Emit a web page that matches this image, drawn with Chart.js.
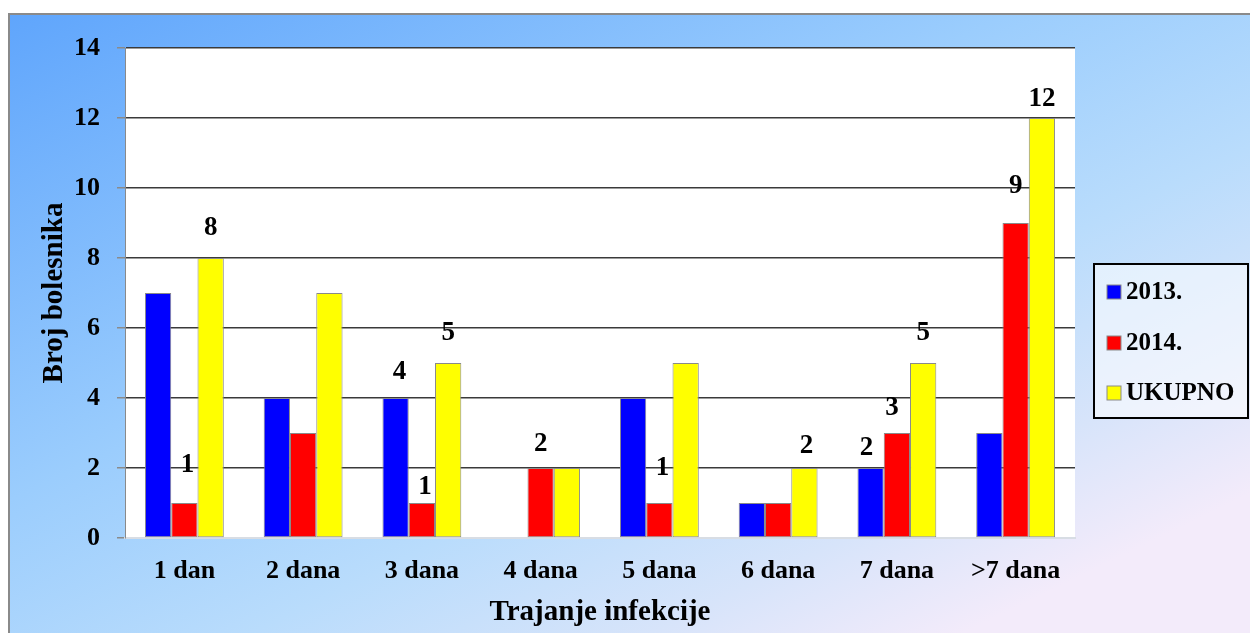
<!DOCTYPE html>
<html>
<head>
<meta charset="utf-8">
<script src="https://cdn.jsdelivr.net/npm/chart.js@4.4.1/dist/chart.umd.min.js"></script>
<style>
  html, body { margin: 0; padding: 0; background: #fff; }
  #wrap { position: relative; width: 1250px; height: 633px; }
  canvas { display: block; }
</style>
</head>
<body>
<div id="wrap"><canvas id="c" width="1250" height="633"></canvas></div>
<script>
// ---- data ----
const categories = ['1 dan', '2 dana', '3 dana', '4 dana', '5 dana', '6 dana', '7 dana', '>7 dana'];
const seriesNames = ['2013.', '2014.', 'UKUPNO'];
const values2013 = [7, 4, 4, 0, 4, 1, 2, 3];
const values2014 = [1, 3, 1, 2, 1, 1, 3, 9];
const valuesTotal = [8, 7, 5, 2, 5, 2, 5, 12];
const shown2013 = [false, false, true, false, false, false, true, false];
const shown2014 = [true, false, true, true, true, false, true, true];
const shownTotal = [true, false, true, false, false, true, true, true];
const yTicks = [0, 2, 4, 6, 8, 10, 12, 14];

// ---- styling (kept separate from data) ----
const colors = ['#0000ff', '#ff0000', '#ffff00'];
const FONT = "'Liberation Serif', 'Times New Roman', serif";
const labelNudge = [
  { 2: [4, -26], 6: [-4, -20] },
  { 0: [3, -38], 2: [3, -16], 3: [0, -24], 4: [3, -35], 6: [-5, -25], 7: [0, -37] },
  { 0: [0, -30], 2: [0, -30], 5: [2, -22], 6: [0, -30], 7: [0, -19] }
];
const shownFlags = [shown2013, shown2014, shownTotal];

const bgPlugin = {
  id: 'bg',
  beforeDraw(chart) {
    const ctx = chart.ctx;
    const W = chart.width, H = chart.height;
    ctx.save();
    ctx.fillStyle = '#ffffff';
    ctx.fillRect(0, 0, W, H);
    const g = ctx.createLinearGradient(8, 13, 8 + 570 * 0.75, 13 + 1170 * 0.75);
    g.addColorStop(0, 'rgb(95,165,252)');
    g.addColorStop(0.45, 'rgb(155,205,253)');
    g.addColorStop(0.68, 'rgb(185,220,252)');
    g.addColorStop(0.86, 'rgb(215,228,250)');
    g.addColorStop(1, 'rgb(243,235,250)');
    ctx.fillStyle = g;
    ctx.fillRect(8, 13, W - 8, H - 13);
    ctx.strokeStyle = '#8a8a8a';
    ctx.lineWidth = 2;
    ctx.beginPath();
    ctx.moveTo(9, H);
    ctx.lineTo(9, 14);
    ctx.lineTo(W, 14);
    ctx.stroke();
    const a = chart.chartArea;
    ctx.fillStyle = '#ffffff';
    ctx.fillRect(a.left, a.top, a.right - a.left, a.bottom - a.top);
    ctx.restore();
  }
};

const labelPlugin = {
  id: 'vlabels',
  afterDatasetsDraw(chart) {
    const ctx = chart.ctx;
    ctx.save();
    ctx.font = 'bold 27px ' + FONT;
    ctx.fillStyle = '#000';
    ctx.textAlign = 'center';
    ctx.textBaseline = 'middle';
    chart.data.datasets.forEach((ds, di) => {
      const meta = chart.getDatasetMeta(di);
      meta.data.forEach((bar, i) => {
        if (!shownFlags[di][i]) return;
        const n = labelNudge[di][i] || [0, -28];
        ctx.fillText(String(ds.data[i]), bar.x + n[0], bar.y + n[1]);
      });
    });
    ctx.restore();
  }
};

const legendPlugin = {
  id: 'boxLegend',
  afterDraw(chart) {
    const ctx = chart.ctx;
    const x0 = 1094, y0 = 264, w = 154, h = 154;
    ctx.save();
    ctx.fillStyle = 'rgba(255,255,255,0.55)';
    ctx.fillRect(x0, y0, w, h);
    ctx.strokeStyle = '#000';
    ctx.lineWidth = 2;
    ctx.strokeRect(x0, y0, w, h);
    const rows = [292, 343, 393];
    ctx.font = 'bold 25px ' + FONT;
    ctx.textBaseline = 'middle';
    ctx.textAlign = 'left';
    seriesNames.forEach((name, i) => {
      ctx.fillStyle = colors[i];
      ctx.fillRect(1107, rows[i] - 7, 14, 14);
      ctx.strokeStyle = '#8a8a8a';
      ctx.lineWidth = 1;
      ctx.strokeRect(1107, rows[i] - 7, 14, 14);
      ctx.fillStyle = '#000';
      ctx.fillText(name, 1126, rows[i] + 1);
    });
    ctx.restore();
  }
};

const datasets = [values2013, values2014, valuesTotal].map((vals, i) => ({
  label: seriesNames[i],
  data: vals,
  backgroundColor: colors[i],
  borderColor: '#8a8a8a',
  borderWidth: 1,
  borderSkipped: false,
  barPercentage: 1.0,
  categoryPercentage: 0.664
}));

new Chart(document.getElementById('c'), {
  type: 'bar',
  data: { labels: categories, datasets },
  options: {
    responsive: false,
    animation: false,
    devicePixelRatio: 1,
    layout: { padding: { top: 48, right: 175, left: 0, bottom: 0 } },
    plugins: { legend: { display: false }, tooltip: { enabled: false } },
    scales: {
      x: {
        grid: { display: false },
        border: { display: true, color: '#d8dde4', width: 2 },
        ticks: { color: '#000', font: { family: FONT, size: 26, weight: 'bold' }, padding: 10, maxRotation: 0 },
        title: { display: true, text: 'Trajanje infekcije', color: '#000', font: { family: FONT, size: 29, weight: 'bold' }, padding: { top: 0, bottom: 3 } },
        afterFit(s) { s.height = 95; }
      },
      y: {
        min: 0, max: 14,
        afterBuildTicks(s) { s.ticks = yTicks.map(v => ({ value: v })); },
        grid: {
          color: ctx => (ctx.tick && ctx.tick.value === 0) ? 'rgba(0,0,0,0)' : '#3a3a3a',
          lineWidth: 1.5,
          tickColor: '#8a8a8a',
          tickLength: 8,
          drawTicks: true
        },
        border: { display: true, color: '#8a8a8a', width: 1 },
        ticks: { color: '#000', font: { family: FONT, size: 26, weight: 'bold' }, padding: 17 },
        title: { display: true, text: 'Broj bolesnika', color: '#000', font: { family: FONT, size: 29, weight: 'bold' }, padding: { top: 37, bottom: 0 } },
        afterFit(s) { s.width = 125; }
      }
    }
  },
  plugins: [bgPlugin, labelPlugin, legendPlugin]
});
</script>
</body>
</html>
